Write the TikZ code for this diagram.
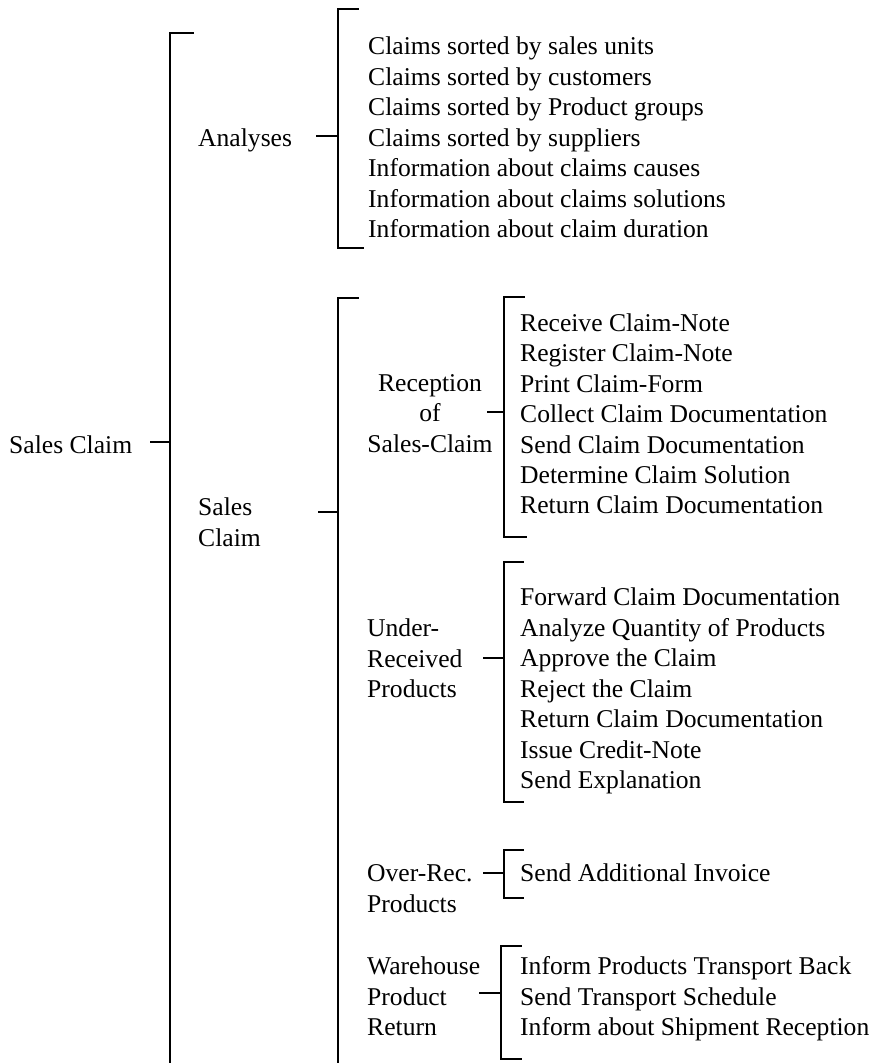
\documentclass[tikz,border=0pt]{standalone}
\usepackage{fontspec}
\setmainfont{Liberation Serif}
\begin{document}
\begin{tikzpicture}[x=1pt,y=-1pt,
  lbl/.style={anchor=base west,inner sep=0pt,font=\fontsize{25.6}{30.5}\selectfont},
  clbl/.style={anchor=base,inner sep=0pt,font=\fontsize{25.6}{30.5}\selectfont},
  brk/.style={line width=1.8pt,line cap=rect},
  tick/.style={line width=1.8pt}]
\useasboundingbox (0,0) rectangle (892,1063);

% ---------- labels of the tree ----------
\node[lbl] (root) at (9,453.5) {Sales Claim};
\node[lbl] (ana) at (198,146) {Analyses};
\node[lbl] (sc1) at (198,515.5) {Sales};
\node[lbl] (sc2) at (198,546) {Claim};
\node[clbl] (rec1) at (430,391.5) {Reception};
\node[clbl] (rec2) at (430,421.5) {of};
\node[clbl] (rec3) at (430,452.5) {Sales-Claim};
\node[lbl] (und1) at (367,636.5) {Under-};
\node[lbl] (und2) at (367,667) {Received};
\node[lbl] (und3) at (367,697.5) {Products};
\node[lbl] (ovr1) at (367,881.5) {Over-Rec.};
\node[lbl] (ovr2) at (367,912.5) {Products};
\node[lbl] (wh1) at (367,974.5) {Warehouse};
\node[lbl] (wh2) at (367,1005) {Product};
\node[lbl] (wh3) at (367,1035.5) {Return};

% ---------- leaf lists ----------
\foreach \t [count=\i from 0] in {Claims sorted by sales units,Claims sorted by customers,Claims sorted by Product groups,Claims sorted by suppliers,Information about claims causes,Information about claims solutions,Information about claim duration}
  \node[lbl] (a\i) at (368,54.5+30.5*\i) {\t};

\foreach \t [count=\i from 0] in {Receive Claim-Note,Register Claim-Note,Print Claim-Form,Collect Claim Documentation,Send Claim Documentation,Determine Claim Solution,Return Claim Documentation}
  \node[lbl] (r\i) at (520,331.5+30.4*\i) {\t};

\foreach \t [count=\i from 0] in {Forward Claim Documentation,Analyze Quantity of Products,Approve the Claim,Reject the Claim,Return Claim Documentation,Issue Credit-Note,Send Explanation}
  \node[lbl] (u\i) at (520,605.5+30.5*\i) {\t};

\node[lbl] (o0) at (520,881.5) {Send Additional Invoice};

\foreach \t [count=\i from 0] in {Inform Products Transport Back,Send Transport Schedule,Inform about Shipment Reception}
  \node[lbl] (w\i) at (520,974.5+30.5*\i) {\t};

% ---------- bracket points ----------
\coordinate (rootT) at (170,33);   \coordinate (rootB) at (170,1063);
\coordinate (anaT) at (338,9);     \coordinate (anaB) at (338,248);
\coordinate (scT) at (338,298);    \coordinate (scB) at (338,1063);
\coordinate (recT) at (504,297);   \coordinate (recB) at (504,537);
\coordinate (undT) at (504,562);   \coordinate (undB) at (504,802);
\coordinate (ovrT) at (504,850);   \coordinate (ovrB) at (504,898);
\coordinate (whT) at (501,946);    \coordinate (whB) at (501,1059);

% brackets
\draw[brk] ([xshift=23pt]rootT) -- (rootT) -- (rootB);
\draw[brk] ([xshift=20pt]anaT) -- (anaT) -- (anaB) -- ([xshift=25pt]anaB);
\draw[brk] ([xshift=20pt]scT) -- (scT) -- (scB);
\draw[brk] ([xshift=20pt]recT) -- (recT) -- (recB) -- ([xshift=22pt]recB);
\draw[brk] ([xshift=19pt]undT) -- (undT) -- (undB) -- ([xshift=19pt]undB);
\draw[brk] ([xshift=19pt]ovrT) -- (ovrT) -- (ovrB) -- ([xshift=19pt]ovrB);
\draw[brk] ([xshift=20pt]whT) -- (whT) -- (whB) -- ([xshift=20pt]whB);

% ---------- connectors (label to bracket) ----------
\coordinate (rootE) at (150,442);  \coordinate (rootJ) at (170,442);
\coordinate (anaE) at (316,136);   \coordinate (anaJ) at (338,136);
\coordinate (scE) at (318,512);    \coordinate (scJ) at (338,512);
\coordinate (recE) at (487,412);   \coordinate (recJ) at (504,412);
\coordinate (undE) at (483,658);   \coordinate (undJ) at (504,658);
\coordinate (ovrE) at (483,873);   \coordinate (ovrJ) at (504,873);
\coordinate (whE) at (479,993);    \coordinate (whJ) at (501,993);
\foreach \n in {root,ana,sc,rec,und,ovr,wh}
  \draw[tick] (\n E) -- (\n J);
\end{tikzpicture}
\end{document}
